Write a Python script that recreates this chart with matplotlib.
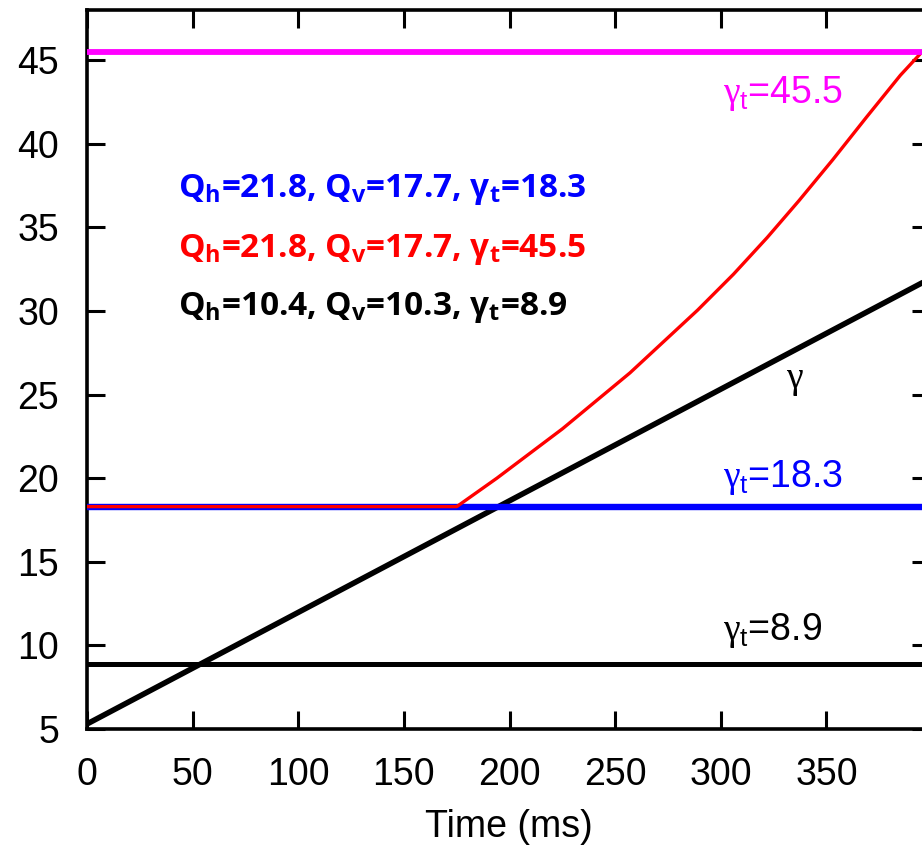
import matplotlib
matplotlib.use("Agg")
import matplotlib.pyplot as plt

plt.rcParams.update({
    "font.family": ["Liberation Sans", "DejaVu Sans"],
    "mathtext.fontset": "custom",
    "mathtext.rm": "Liberation Sans",
    "mathtext.it": "Liberation Serif",   # used only for the symbol-font style gamma
    "mathtext.bf": "Open Sans:bold",
    "mathtext.default": "rm",
})

# ---- data ----
gamma_x = [0, 400]
gamma_y = [5.3, 32.0]

gt_black = 8.9
gt_blue = 18.3
gt_magenta = 45.5

red_x = [0, 175, 194, 225, 257, 289, 306, 322, 337, 353, 369, 385, 396]
red_y = [18.3, 18.3, 20.0, 22.95, 26.3, 30.05, 32.2, 34.4, 36.6, 39.05, 41.6, 44.1, 45.6]

xticks = [0, 50, 100, 150, 200, 250, 300, 350]
yticks = [5, 10, 15, 20, 25, 30, 35, 40, 45]

MAGENTA = "#FF00FF"
BLUE = "#0000FF"
RED = "#FF0000"

fig = plt.figure(figsize=(9.22, 8.56), dpi=100)
# right edge of the axes sits just past the picture, as in the cropped reference
ax = fig.add_axes([87 / 922, 127 / 856, 843 / 922, 719 / 856])

ax.plot(gamma_x, gamma_y, color="black", lw=4.0, zorder=3, solid_capstyle="butt")
ax.axhline(gt_black, color="black", lw=3.6, zorder=3)
ax.axhline(gt_blue, color=BLUE, lw=4.6, zorder=4)
ax.plot(red_x, red_y, color=RED, lw=2.4, zorder=5)
ax.axhline(gt_magenta, color=MAGENTA, lw=4.2, zorder=6)

ax.set_xlim(0, 399)
ax.set_ylim(5, 48)
ax.set_xticks(xticks)
ax.set_yticks(yticks)
ax.tick_params(direction="in", length=13, width=2.2, labelsize=27,
               top=True, right=True, color="black")
ax.tick_params(axis="x", pad=20)
ax.tick_params(axis="y", pad=20)
for s in ax.spines.values():
    s.set_linewidth(2.6)
ax.set_xlabel("Time (ms)", fontsize=27, labelpad=12)

# curve labels
lab = dict(fontsize=27, ha="left", va="baseline")
ax.text(301, 42.45, r"$\mathit{\gamma}_\mathrm{t}$=45.5", color=MAGENTA, **lab)
ax.text(301, 19.5, r"$\mathit{\gamma}_\mathrm{t}$=18.3", color=BLUE, **lab)
ax.text(301, 10.35, r"$\mathit{\gamma}_\mathrm{t}$=8.9", color="black", **lab)
ax.text(331, 25.4, r"$\mathit{\gamma}$", color="black", **lab)

# parameter block
bold = dict(fontsize=24, ha="left", va="baseline", family="Open Sans",
            fontweight="bold")
ax.text(43, 36.83, r"Q$_\mathbf{h}$=21.8, Q$_\mathbf{v}$=17.7, γ$_\mathbf{t}$=18.3",
        color=BLUE, **bold)
ax.text(43, 33.25, r"Q$_\mathbf{h}$=21.8, Q$_\mathbf{v}$=17.7, γ$_\mathbf{t}$=45.5",
        color=RED, **bold)
ax.text(43, 29.78, r"Q$_\mathbf{h}$=10.4, Q$_\mathbf{v}$=10.3, γ$_\mathbf{t}$=8.9",
        color="black", **bold)

fig.savefig("out.png", dpi=100, facecolor="white")
